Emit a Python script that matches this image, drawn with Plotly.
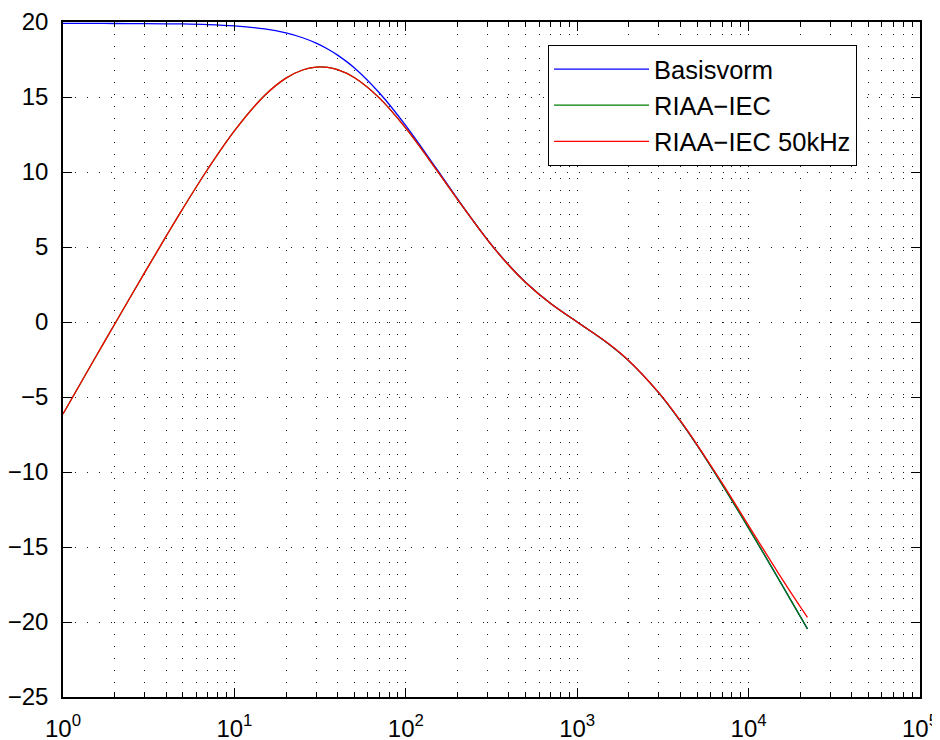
import plotly.graph_objects as go

# Frequencies (Hz) and responses (dB)
freq = [1, 1.5, 2, 3, 4, 5, 7, 10, 15, 20, 25, 30, 35, 40, 50, 70, 100, 150, 200,
        300, 400, 500, 700, 1000, 1500, 2000, 3000, 4000, 5000, 7000, 10000, 15000,
        20000, 22050]
basisvorm = [19.91, 19.91, 19.90, 19.89, 19.88, 19.87, 19.83, 19.74, 19.54, 19.27,
             18.95, 18.59, 18.20, 17.79, 16.95, 15.28, 13.09, 10.27, 8.22, 5.48,
             3.78, 2.65, 1.23, 0.00, -1.40, -2.59, -4.74, -6.61, -8.21, -10.82,
             -13.74, -17.16, -19.62, -20.46]
riaa_iec = [-6.13, -2.62, -0.15, 3.31, 5.72, 7.56, 10.20, 12.74, 15.10, 16.26,
            16.80, 16.99, 16.97, 16.82, 16.30, 14.94, 12.92, 10.19, 8.18, 5.46,
            3.77, 2.64, 1.23, 0.00, -1.40, -2.59, -4.74, -6.61, -8.21, -10.82,
            -13.74, -17.16, -19.62, -20.46]
riaa_iec_50k = [-6.13, -2.62, -0.15, 3.31, 5.72, 7.56, 10.20, 12.74, 15.10, 16.26,
                16.80, 16.99, 16.97, 16.82, 16.30, 14.94, 12.92, 10.19, 8.18, 5.46,
                3.77, 2.64, 1.23, 0.00, -1.39, -2.58, -4.73, -6.58, -8.17, -10.73,
                -13.57, -16.79, -18.98, -19.69]

series_names = ["Basisvorm", "RIAA\u2212IEC", "RIAA\u2212IEC 50kHz"]
series_colors = ["#0000FF", "#007F00", "#FF0000"]

x_tick_vals = [1, 10, 100, 1000, 10000, 100000]
x_tick_text = ["10<sup>0</sup>", "10<sup>1</sup>", "10<sup>2</sup>",
               "10<sup>3</sup>", "10<sup>4</sup>", "10<sup>5</sup>"]
x_minor_vals = [m * d for d in [1, 10, 100, 1000, 10000] for m in range(2, 10)]

FONT = "Liberation Sans, Arial, Helvetica, sans-serif"
FS_TICK = 24
FS_LEG = 25.5
GRID = "rgb(30,30,30)"

fig = go.Figure()
for name, ys, col in zip(series_names, [basisvorm, riaa_iec, riaa_iec_50k], series_colors):
    fig.add_trace(go.Scatter(x=freq, y=ys, mode="lines", name=name,
                             line=dict(color=col, width=1.3, shape="spline", smoothing=1.0)))

# page body has an 8px margin: figure is placed at (8, 8) in the window
fig.update_layout(
    width=940, height=740,
    margin=dict(l=55, r=28, t=14, b=51, autoexpand=False),
    paper_bgcolor="white", plot_bgcolor="white",
    font=dict(family=FONT, size=FS_TICK, color="black"),
    showlegend=True,
    legend=dict(x=0.566, y=0.966, xanchor="left", yanchor="top",
                bgcolor="white", bordercolor="black", borderwidth=1,
                font=dict(family=FONT, size=FS_LEG, color="black"),
                itemwidth=95, tracegroupgap=0, traceorder="normal"),
)
fig.update_xaxes(
    type="log", range=[0, 5], automargin=False,
    tickvals=x_tick_vals, ticktext=x_tick_text,
    ticks="inside", ticklen=9, tickcolor="black", tickwidth=1,
    showline=True, linecolor="black", linewidth=1.5, mirror="allticks",
    showgrid=True, gridcolor=GRID, griddash="1px,11px", gridwidth=1,
    zeroline=False, ticklabelstandoff=9,
    tickfont=dict(family=FONT, size=FS_TICK, color="black"),
    minor=dict(tickvals=x_minor_vals, ticks="inside", ticklen=5, tickcolor="black",
               showgrid=True, gridcolor=GRID, griddash="1px,11px", gridwidth=1),
)
fig.update_yaxes(
    range=[-25, 20], tick0=-25, dtick=5, automargin=False,
    ticks="inside", ticklen=9, tickcolor="black", tickwidth=1,
    showline=True, linecolor="black", linewidth=1.5, mirror="allticks",
    showgrid=True, gridcolor=GRID, griddash="1px,11px", gridwidth=1,
    zeroline=False, ticklabelstandoff=8,
    tickfont=dict(family=FONT, size=FS_TICK, color="black"),
)

fig.write_html("out.html")
